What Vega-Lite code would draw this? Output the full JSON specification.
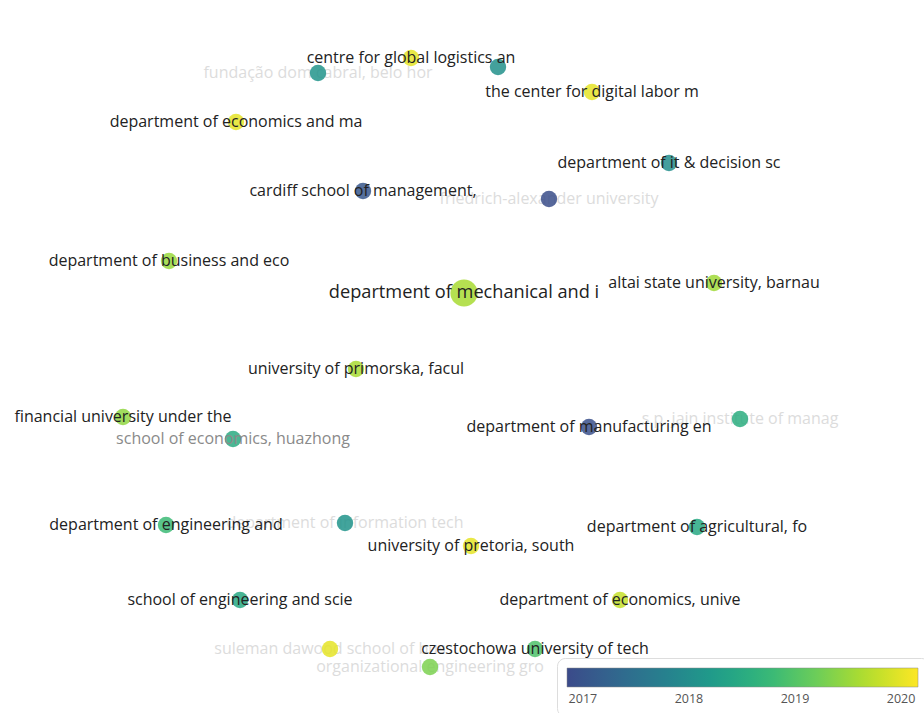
{
  "$schema": "https://vega.github.io/schema/vega-lite/v6.json",
  "autosize": {"type": "fit", "contains": "padding"},
  "width": 924,
  "height": 713,
  "padding": 0,
  "background": "white",
  "config": {"view": {"stroke": null}, "font": "Open Sans"},
  "data": {
    "values": [
      {"label": "centre for global logistics an", "x": 411, "y": 58, "year": 2020.0, "weight": 1, "style": "shown"},
      {"label": "fundação dom cabral, belo hor", "x": 318, "y": 73, "year": 2018.1, "weight": 1, "style": "faded"},
      {"label": "", "x": 498, "y": 67, "year": 2018.05, "weight": 1, "style": "faded"},
      {"label": "the center for digital labor m", "x": 592, "y": 92, "year": 2020.0, "weight": 1, "style": "shown"},
      {"label": "department of economics and ma", "x": 236, "y": 122, "year": 2020.0, "weight": 1, "style": "shown"},
      {"label": "department of it & decision sc", "x": 669, "y": 163, "year": 2018.0, "weight": 1, "style": "shown"},
      {"label": "cardiff school of management,", "x": 363, "y": 191, "year": 2017.05, "weight": 1, "style": "shown"},
      {"label": "friedrich-alexander university", "x": 549, "y": 199, "year": 2016.9, "weight": 1, "style": "faded"},
      {"label": "department of business and eco", "x": 169, "y": 261, "year": 2019.5, "weight": 1, "style": "shown"},
      {"label": "department of mechanical and i", "x": 464, "y": 293, "year": 2019.6, "weight": 5, "style": "big"},
      {"label": "altai state university, barnau", "x": 714, "y": 283, "year": 2019.55, "weight": 1, "style": "shown"},
      {"label": "university of primorska, facul", "x": 356, "y": 369, "year": 2019.6, "weight": 1, "style": "shown"},
      {"label": "financial university under the", "x": 123, "y": 417, "year": 2019.45, "weight": 1, "style": "shown"},
      {"label": "school of economics, huazhong", "x": 233, "y": 439, "year": 2018.5, "weight": 1, "style": "dim"},
      {"label": "department of manufacturing en", "x": 589, "y": 427, "year": 2016.95, "weight": 1, "style": "shown"},
      {"label": "s.p. jain institute of manag", "x": 740, "y": 419, "year": 2018.55, "weight": 1, "style": "faded"},
      {"label": "department of engineering and", "x": 166, "y": 525, "year": 2018.8, "weight": 1, "style": "shown"},
      {"label": "department of information tech", "x": 345, "y": 523, "year": 2018.1, "weight": 1, "style": "faded"},
      {"label": "university of pretoria, south", "x": 471, "y": 546, "year": 2020.0, "weight": 1, "style": "shown"},
      {"label": "department of agricultural, fo", "x": 697, "y": 527, "year": 2018.45, "weight": 1, "style": "shown"},
      {"label": "school of engineering and scie", "x": 240, "y": 600, "year": 2018.45, "weight": 1, "style": "shown"},
      {"label": "department of economics, unive", "x": 620, "y": 600, "year": 2019.8, "weight": 1, "style": "shown"},
      {"label": "suleman dawood school of bus", "x": 330, "y": 649, "year": 2020.0, "weight": 1, "style": "faded"},
      {"label": "czestochowa university of tech", "x": 535, "y": 649, "year": 2018.95, "weight": 1, "style": "shown"},
      {"label": "organizational engineering gro", "x": 430, "y": 667, "year": 2019.3, "weight": 1, "style": "faded"}
    ]
  },
  "encoding": {
    "x": {"field": "x", "type": "quantitative", "scale": {"domain": [0, 924], "nice": false, "zero": false}, "axis": null},
    "y": {"field": "y", "type": "quantitative", "scale": {"domain": [0, 713], "nice": false, "zero": false, "reverse": true}, "axis": null}
  },
  "layer": [
    {
      "transform": [{"filter": "datum.style === 'faded'"}],
      "mark": {"type": "text", "font": "Open Sans", "fontSize": 16, "color": "#bbbbbb", "opacity": 0.5, "baseline": "middle", "align": "center"},
      "encoding": {"text": {"field": "label"}}
    },
    {
      "mark": {"type": "circle", "fillOpacity": 0.85, "stroke": null},
      "encoding": {
        "color": {
          "field": "year", "type": "quantitative",
          "scale": {"domain": [2016.85, 2020.16], "range": ["#3b4a8a", "#31688e", "#26828e", "#1f9e89", "#35b779", "#6ece58", "#b5de2b", "#fde725"], "interpolate": "rgb"},
          "legend": {
            "title": null, "orient": "none", "direction": "horizontal",
            "legendX": 557, "legendY": 658,
            "gradientLength": 351, "gradientThickness": 19,
            "gradientStrokeColor": "#888", "gradientStrokeWidth": 0.5,
            "values": [2017, 2018, 2019, 2020], "format": "d",
            "labelFontSize": 12.5, "labelColor": "#555", "labelFont": "Open Sans", "labelOffset": 6,
            "padding": 10, "strokeColor": "#dddddd", "fillColor": "white", "cornerRadius": 8,
            "encode": {"gradient": {"update": {"opacity": {"value": 1}, "fillOpacity": {"value": 1}}}}
          }
        },
        "size": {"field": "weight", "type": "quantitative", "scale": {"domain": [1, 5], "range": [270, 740]}, "legend": null}
      }
    },
    {
      "transform": [{"filter": "datum.style === 'dim'"}],
      "mark": {"type": "text", "font": "Open Sans", "fontSize": 16, "color": "#8a8a8a", "baseline": "middle", "align": "center"},
      "encoding": {"text": {"field": "label"}}
    },
    {
      "transform": [{"filter": "datum.style === 'shown'"}],
      "mark": {"type": "text", "font": "Open Sans", "fontSize": 16, "color": "#222222", "baseline": "middle", "align": "center"},
      "encoding": {"text": {"field": "label"}}
    },
    {
      "transform": [{"filter": "datum.style === 'big'"}],
      "mark": {"type": "text", "font": "Open Sans", "fontSize": 18.2, "color": "#222222", "baseline": "middle", "align": "center"},
      "encoding": {"text": {"field": "label"}}
    }
  ]
}
